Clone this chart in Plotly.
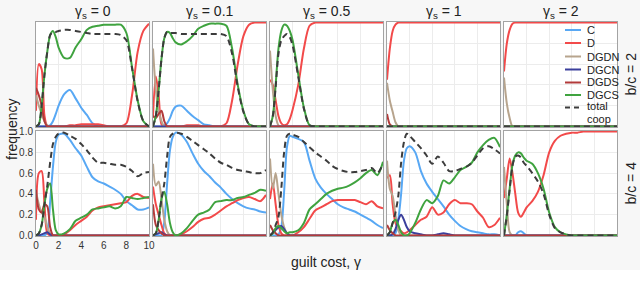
import plotly.graph_objects as go
from plotly.subplots import make_subplots

# ---------------- data ----------------
X = [0, 0.25, 0.5, 0.75, 1, 1.25, 1.5, 1.75, 2, 2.5, 3, 3.5, 4, 4.5, 5, 5.5, 6, 6.5, 7, 7.5, 8, 8.5, 9, 9.5, 10]
GAMMA_S = ["0", "0.1", "0.5", "1", "2"]
BC = ["2", "4"]
STRATS = ["C", "D", "DGDN", "DGCN", "DGDS", "DGCS"]
X_TICKS = [0, 2, 4, 6, 8, 10]
Y_TICKS = [0.0, 0.2, 0.4, 0.6, 0.8, 1.0]

# b/c = 2, gamma_s = 0
C_B2_G0 = [0, 0, 0, 0, 0, 0.01, 0.05, 0.12, 0.2, 0.31, 0.35, 0.27, 0.18, 0.11, 0.03, 0, 0, 0, 0, 0, 0, 0, 0, 0, 0]
D_B2_G0 = [0.15, 0.6, 0.55, 0.1, 0, 0, 0, 0, 0, 0, 0.01, 0.01, 0.02, 0.02, 0.02, 0.02, 0.01, 0, 0, 0, 0.03, 0.3, 0.72, 0.92, 0.99]
DGDN_B2_G0 = [0.3, 0.2, 0.12, 0.05, 0.01, 0, 0, 0, 0, 0, 0, 0, 0, 0, 0, 0, 0, 0, 0, 0, 0, 0, 0, 0, 0]
DGCN_B2_G0 = [0, 0, 0, 0, 0, 0, 0, 0, 0, 0, 0, 0, 0, 0, 0, 0, 0, 0, 0, 0, 0, 0, 0, 0, 0]
DGDS_B2_G0 = [0.37, 0.3, 0.2, 0.05, 0, 0, 0, 0, 0, 0, 0, 0, 0, 0, 0, 0, 0, 0, 0, 0, 0, 0, 0, 0, 0]
DGCS_B2_G0 = [0, 0.02, 0.2, 0.5, 0.72, 0.88, 0.92, 0.86, 0.76, 0.66, 0.66, 0.76, 0.84, 0.93, 0.96, 0.97, 0.98, 0.98, 0.98, 0.98, 0.9, 0.57, 0.25, 0.05, 0]
TOT_B2_G0 = [0, 0.02, 0.2, 0.5, 0.72, 0.88, 0.91, 0.91, 0.92, 0.93, 0.93, 0.92, 0.91, 0.9, 0.89, 0.89, 0.89, 0.89, 0.89, 0.88, 0.83, 0.56, 0.24, 0.05, 0]

# b/c = 2, gamma_s = 0.1
C_B2_G01 = [0, 0, 0, 0, 0.01, 0.03, 0.08, 0.15, 0.19, 0.2, 0.15, 0.1, 0.06, 0.02, 0.01, 0, 0, 0, 0, 0, 0, 0, 0, 0, 0]
D_B2_G01 = [0.1, 0.48, 0.3, 0.02, 0, 0, 0, 0, 0, 0, 0.01, 0.01, 0.01, 0, 0, 0, 0, 0.03, 0.25, 0.6, 0.87, 0.98, 1, 1, 1]
DGDN_B2_G01 = [0.75, 0.35, 0.15, 0.05, 0, 0, 0, 0, 0, 0, 0, 0, 0, 0, 0, 0, 0, 0, 0, 0, 0, 0, 0, 0, 0]
DGCN_B2_G01 = [0, 0, 0, 0, 0, 0, 0, 0, 0, 0, 0, 0, 0, 0, 0, 0, 0, 0, 0, 0, 0, 0, 0, 0, 0]
DGDS_B2_G01 = [0.1, 0.08, 0.12, 0.15, 0.05, 0, 0, 0, 0, 0, 0, 0, 0, 0, 0, 0, 0, 0, 0, 0, 0, 0, 0, 0, 0]
DGCS_B2_G01 = [0, 0.1, 0.35, 0.65, 0.85, 0.91, 0.9, 0.85, 0.81, 0.79, 0.82, 0.87, 0.94, 0.97, 0.99, 0.99, 0.99, 0.97, 0.75, 0.4, 0.15, 0.02, 0, 0, 0]
TOT_B2_G01 = [0, 0.1, 0.35, 0.65, 0.85, 0.91, 0.9, 0.9, 0.9, 0.89, 0.89, 0.89, 0.89, 0.89, 0.89, 0.89, 0.89, 0.87, 0.7, 0.38, 0.14, 0.02, 0, 0, 0]

# b/c = 2, gamma_s = 0.5
C_B2_G05 = [0, 0, 0, 0, 0, 0, 0, 0, 0, 0, 0, 0, 0, 0, 0, 0, 0, 0, 0, 0, 0, 0, 0, 0, 0]
D_B2_G05 = [0.45, 0.4, 0.25, 0.1, 0.03, 0.01, 0.02, 0.07, 0.16, 0.4, 0.75, 0.97, 1, 1, 1, 1, 1, 1, 1, 1, 1, 1, 1, 1, 1]
DGDN_B2_G05 = [0.73, 0.35, 0.1, 0.01, 0, 0, 0, 0, 0, 0, 0, 0, 0, 0, 0, 0, 0, 0, 0, 0, 0, 0, 0, 0, 0]
DGCN_B2_G05 = [0, 0, 0, 0, 0, 0, 0, 0, 0, 0, 0, 0, 0, 0, 0, 0, 0, 0, 0, 0, 0, 0, 0, 0, 0]
DGDS_B2_G05 = [0, 0, 0, 0, 0, 0, 0, 0, 0, 0, 0, 0, 0, 0, 0, 0, 0, 0, 0, 0, 0, 0, 0, 0, 0]
DGCS_B2_G05 = [0, 0.1, 0.4, 0.75, 0.92, 0.98, 0.97, 0.92, 0.83, 0.5, 0.18, 0.01, 0, 0, 0, 0, 0, 0, 0, 0, 0, 0, 0, 0, 0]
TOT_B2_G05 = [0, 0.1, 0.38, 0.7, 0.83, 0.87, 0.89, 0.86, 0.78, 0.48, 0.17, 0.01, 0, 0, 0, 0, 0, 0, 0, 0, 0, 0, 0, 0, 0]

# b/c = 2, gamma_s = 1
C_B2_G1 = [0, 0, 0, 0, 0, 0, 0, 0, 0, 0, 0, 0, 0, 0, 0, 0, 0, 0, 0, 0, 0, 0, 0, 0, 0]
D_B2_G1 = [0.45, 0.75, 0.92, 0.98, 1, 1, 1, 1, 1, 1, 1, 1, 1, 1, 1, 1, 1, 1, 1, 1, 1, 1, 1, 1, 1]
DGDN_B2_G1 = [0.42, 0.25, 0.14, 0.04, 0, 0, 0, 0, 0, 0, 0, 0, 0, 0, 0, 0, 0, 0, 0, 0, 0, 0, 0, 0, 0]
DGCN_B2_G1 = [0, 0, 0, 0, 0, 0, 0, 0, 0, 0, 0, 0, 0, 0, 0, 0, 0, 0, 0, 0, 0, 0, 0, 0, 0]
DGDS_B2_G1 = [0.12, 0.02, 0, 0, 0, 0, 0, 0, 0, 0, 0, 0, 0, 0, 0, 0, 0, 0, 0, 0, 0, 0, 0, 0, 0]
DGCS_B2_G1 = [0, 0, 0, 0, 0, 0, 0, 0, 0, 0, 0, 0, 0, 0, 0, 0, 0, 0, 0, 0, 0, 0, 0, 0, 0]
TOT_B2_G1 = [0, 0, 0, 0, 0, 0, 0, 0, 0, 0, 0, 0, 0, 0, 0, 0, 0, 0, 0, 0, 0, 0, 0, 0, 0]

# b/c = 2, gamma_s = 2
C_B2_G2 = [0, 0, 0, 0, 0, 0, 0, 0, 0, 0, 0, 0, 0, 0, 0, 0, 0, 0, 0, 0, 0, 0, 0, 0, 0]
D_B2_G2 = [0.53, 0.8, 0.93, 0.99, 1, 1, 1, 1, 1, 1, 1, 1, 1, 1, 1, 1, 1, 1, 1, 1, 1, 1, 1, 1, 1]
DGDN_B2_G2 = [0.47, 0.22, 0.08, 0, 0, 0, 0, 0, 0, 0, 0, 0, 0, 0, 0, 0, 0, 0, 0, 0, 0, 0, 0, 0, 0]
DGCN_B2_G2 = [0, 0, 0, 0, 0, 0, 0, 0, 0, 0, 0, 0, 0, 0, 0, 0, 0, 0, 0, 0, 0, 0, 0, 0, 0]
DGDS_B2_G2 = [0, 0, 0, 0, 0, 0, 0, 0, 0, 0, 0, 0, 0, 0, 0, 0, 0, 0, 0, 0, 0, 0, 0, 0, 0]
DGCS_B2_G2 = [0, 0, 0, 0, 0, 0, 0, 0, 0, 0, 0, 0, 0, 0, 0, 0, 0, 0, 0, 0, 0, 0, 0, 0, 0]
TOT_B2_G2 = [0, 0, 0, 0, 0, 0, 0, 0, 0, 0, 0, 0, 0, 0, 0, 0, 0, 0, 0, 0, 0, 0, 0, 0, 0]

# b/c = 4, gamma_s = 0
C_B4_G0 = [0, 0, 0, 0, 0.03, 0.32, 0.66, 0.9, 0.97, 0.98, 0.92, 0.84, 0.77, 0.66, 0.56, 0.52, 0.5, 0.47, 0.44, 0.4, 0.33, 0.29, 0.25, 0.25, 0.27]
D_B4_G0 = [0.15, 0.6, 0.62, 0.3, 0.02, 0, 0, 0, 0, 0.01, 0.05, 0.1, 0.14, 0.18, 0.24, 0.27, 0.28, 0.29, 0.3, 0.31, 0.32, 0.38, 0.4, 0.37, 0.36]
DGDN_B4_G0 = [0.42, 0.3, 0.22, 0.18, 0.08, 0.02, 0, 0, 0, 0, 0, 0, 0, 0, 0, 0, 0, 0, 0, 0, 0, 0, 0, 0, 0]
DGCN_B4_G0 = [0, 0, 0.01, 0.02, 0.03, 0.01, 0, 0, 0, 0, 0, 0, 0, 0, 0, 0, 0, 0, 0, 0, 0, 0, 0, 0, 0]
DGDS_B4_G0 = [0.44, 0.25, 0.22, 0.3, 0.28, 0.08, 0, 0, 0, 0, 0, 0, 0, 0, 0, 0, 0, 0, 0, 0, 0, 0, 0, 0, 0]
DGCS_B4_G0 = [0, 0.02, 0.1, 0.3, 0.45, 0.5, 0.25, 0.05, 0.01, 0.02, 0.06, 0.14, 0.17, 0.2, 0.25, 0.26, 0.27, 0.28, 0.26, 0.28, 0.37, 0.36, 0.35, 0.36, 0.37]
TOT_B4_G0 = [0, 0.02, 0.1, 0.3, 0.48, 0.7, 0.88, 0.95, 0.98, 0.99, 0.96, 0.93, 0.88, 0.82, 0.75, 0.7, 0.7, 0.69, 0.68, 0.68, 0.66, 0.62, 0.57, 0.6, 0.61]

# b/c = 4, gamma_s = 0.1
C_B4_G01 = [0, 0, 0, 0, 0.13, 0.5, 0.82, 0.95, 0.99, 0.97, 0.9, 0.79, 0.69, 0.62, 0.57, 0.51, 0.46, 0.4, 0.35, 0.31, 0.28, 0.26, 0.25, 0.23, 0.22]
D_B4_G01 = [0.47, 0.3, 0.2, 0.1, 0.02, 0, 0, 0, 0, 0.01, 0.04, 0.08, 0.13, 0.16, 0.17, 0.2, 0.24, 0.28, 0.31, 0.34, 0.36, 0.37, 0.35, 0.33, 0.39]
DGDN_B4_G01 = [0.69, 0.48, 0.52, 0.35, 0.15, 0.04, 0, 0, 0, 0, 0, 0, 0, 0, 0, 0, 0, 0, 0, 0, 0, 0, 0, 0, 0]
DGCN_B4_G01 = [0, 0.01, 0.02, 0.03, 0.01, 0, 0, 0, 0, 0, 0, 0, 0, 0, 0, 0, 0, 0, 0, 0, 0, 0, 0, 0, 0]
DGDS_B4_G01 = [0.3, 0.1, 0.05, 0.02, 0, 0, 0, 0, 0, 0, 0, 0, 0, 0, 0, 0, 0, 0, 0, 0, 0, 0, 0, 0, 0]
DGCS_B4_G01 = [0, 0.02, 0.15, 0.35, 0.42, 0.3, 0.12, 0.03, 0, 0.02, 0.07, 0.14, 0.2, 0.22, 0.25, 0.32, 0.33, 0.34, 0.34, 0.36, 0.37, 0.39, 0.41, 0.44, 0.43]
TOT_B4_G01 = [0, 0.02, 0.15, 0.35, 0.5, 0.76, 0.95, 0.98, 0.99, 0.98, 0.95, 0.91, 0.87, 0.83, 0.79, 0.74, 0.7, 0.68, 0.65, 0.63, 0.62, 0.61, 0.6, 0.6, 0.63]

# b/c = 4, gamma_s = 0.5
C_B4_G05 = [0, 0, 0, 0.01, 0.08, 0.42, 0.85, 0.96, 0.95, 0.93, 0.9, 0.72, 0.55, 0.46, 0.4, 0.35, 0.3, 0.27, 0.25, 0.23, 0.2, 0.17, 0.14, 0.1, 0.07]
D_B4_G05 = [0.35, 0.5, 0.3, 0.1, 0.02, 0, 0, 0, 0, 0.03, 0.08, 0.16, 0.24, 0.27, 0.3, 0.33, 0.34, 0.34, 0.34, 0.34, 0.32, 0.3, 0.33, 0.28, 0.26]
DGDN_B4_G05 = [0.74, 0.45, 0.6, 0.4, 0.2, 0.08, 0.02, 0, 0, 0, 0, 0, 0, 0, 0, 0, 0, 0, 0, 0, 0, 0, 0, 0, 0]
DGCN_B4_G05 = [0, 0.02, 0.05, 0.08, 0.09, 0.06, 0.02, 0, 0, 0, 0, 0, 0, 0, 0, 0, 0, 0, 0, 0, 0, 0, 0, 0, 0]
DGDS_B4_G05 = [0.1, 0.05, 0.02, 0, 0, 0, 0, 0, 0, 0, 0, 0, 0, 0, 0, 0, 0, 0, 0, 0, 0, 0, 0, 0, 0]
DGCS_B4_G05 = [0, 0.02, 0.07, 0.09, 0.07, 0.04, 0.02, 0.03, 0.03, 0.05, 0.12, 0.25, 0.3, 0.35, 0.4, 0.43, 0.45, 0.46, 0.48, 0.51, 0.55, 0.6, 0.63, 0.58, 0.71]
TOT_B4_G05 = [0, 0.03, 0.1, 0.18, 0.45, 0.8, 0.96, 0.98, 0.97, 0.95, 0.9, 0.85, 0.8, 0.76, 0.72, 0.67, 0.64, 0.62, 0.61, 0.61, 0.62, 0.63, 0.65, 0.6, 0.69]

# b/c = 4, gamma_s = 1
C_B4_G1 = [0, 0, 0, 0.02, 0.15, 0.4, 0.72, 0.84, 0.86, 0.8, 0.62, 0.5, 0.42, 0.35, 0.28, 0.2, 0.14, 0.09, 0.06, 0.04, 0.03, 0.02, 0.01, 0.01, 0]
D_B4_G1 = [0.55, 0.58, 0.3, 0.12, 0.07, 0.04, 0.02, 0.03, 0.05, 0.1, 0.15, 0.18, 0.27, 0.2, 0.22, 0.3, 0.34, 0.31, 0.31, 0.3, 0.23, 0.17, 0.08, 0.1, 0.17]
DGDN_B4_G1 = [0.72, 0.45, 0.38, 0.2, 0.05, 0, 0, 0, 0, 0, 0, 0, 0, 0, 0, 0, 0, 0, 0, 0, 0, 0, 0, 0, 0]
DGCN_B4_G1 = [0, 0, 0.01, 0.06, 0.15, 0.2, 0.15, 0.08, 0.04, 0.02, 0.01, 0, 0, 0.01, 0.02, 0.01, 0, 0, 0, 0, 0, 0, 0, 0, 0]
DGDS_B4_G1 = [0.1, 0.05, 0.02, 0, 0, 0, 0, 0, 0, 0, 0, 0, 0, 0, 0, 0, 0, 0, 0, 0, 0, 0, 0, 0, 0]
DGCS_B4_G1 = [0, 0.03, 0.12, 0.15, 0.1, 0.03, 0, 0, 0.02, 0.12, 0.25, 0.34, 0.31, 0.38, 0.53, 0.5, 0.56, 0.63, 0.66, 0.7, 0.8, 0.87, 0.92, 0.94, 0.85]
TOT_B4_G1 = [0, 0.03, 0.12, 0.22, 0.38, 0.7, 0.9, 0.98, 0.96, 0.9, 0.84, 0.77, 0.69, 0.76, 0.7, 0.62, 0.62, 0.64, 0.66, 0.7, 0.77, 0.84, 0.86, 0.83, 0.79]

# b/c = 4, gamma_s = 2
C_B4_G2 = [0, 0, 0, 0, 0, 0.03, 0.04, 0.02, 0, 0, 0, 0, 0, 0, 0, 0, 0, 0, 0, 0, 0, 0, 0, 0, 0]
D_B4_G2 = [0.36, 0.55, 0.74, 0.6, 0.4, 0.22, 0.18, 0.22, 0.27, 0.33, 0.42, 0.58, 0.8, 0.91, 0.96, 0.98, 0.99, 0.99, 1, 1, 1, 1, 1, 1, 1]
DGDN_B4_G2 = [0.66, 0.3, 0.03, 0, 0, 0, 0, 0, 0, 0, 0, 0, 0, 0, 0, 0, 0, 0, 0, 0, 0, 0, 0, 0, 0]
DGCN_B4_G2 = [0, 0, 0, 0, 0, 0, 0, 0, 0, 0, 0, 0, 0, 0, 0, 0, 0, 0, 0, 0, 0, 0, 0, 0, 0]
DGDS_B4_G2 = [0, 0, 0, 0, 0, 0, 0, 0, 0, 0, 0, 0, 0, 0, 0, 0, 0, 0, 0, 0, 0, 0, 0, 0, 0]
DGCS_B4_G2 = [0, 0.2, 0.45, 0.68, 0.77, 0.8, 0.79, 0.75, 0.72, 0.69, 0.6, 0.45, 0.22, 0.08, 0.03, 0.01, 0, 0, 0, 0, 0, 0, 0, 0, 0]
TOT_B4_G2 = [0, 0.19, 0.44, 0.67, 0.76, 0.77, 0.75, 0.7, 0.67, 0.6, 0.52, 0.4, 0.2, 0.07, 0.03, 0.01, 0, 0, 0, 0, 0, 0, 0, 0, 0]

PANELS = [
    [
        [C_B2_G0, D_B2_G0, DGDN_B2_G0, DGCN_B2_G0, DGDS_B2_G0, DGCS_B2_G0, TOT_B2_G0],
        [C_B2_G01, D_B2_G01, DGDN_B2_G01, DGCN_B2_G01, DGDS_B2_G01, DGCS_B2_G01, TOT_B2_G01],
        [C_B2_G05, D_B2_G05, DGDN_B2_G05, DGCN_B2_G05, DGDS_B2_G05, DGCS_B2_G05, TOT_B2_G05],
        [C_B2_G1, D_B2_G1, DGDN_B2_G1, DGCN_B2_G1, DGDS_B2_G1, DGCS_B2_G1, TOT_B2_G1],
        [C_B2_G2, D_B2_G2, DGDN_B2_G2, DGCN_B2_G2, DGDS_B2_G2, DGCS_B2_G2, TOT_B2_G2],
    ],
    [
        [C_B4_G0, D_B4_G0, DGDN_B4_G0, DGCN_B4_G0, DGDS_B4_G0, DGCS_B4_G0, TOT_B4_G0],
        [C_B4_G01, D_B4_G01, DGDN_B4_G01, DGCN_B4_G01, DGDS_B4_G01, DGCS_B4_G01, TOT_B4_G01],
        [C_B4_G05, D_B4_G05, DGDN_B4_G05, DGCN_B4_G05, DGDS_B4_G05, DGCS_B4_G05, TOT_B4_G05],
        [C_B4_G1, D_B4_G1, DGDN_B4_G1, DGCN_B4_G1, DGDS_B4_G1, DGCS_B4_G1, TOT_B4_G1],
        [C_B4_G2, D_B4_G2, DGDN_B4_G2, DGCN_B4_G2, DGDS_B4_G2, DGCS_B4_G2, TOT_B4_G2],
    ],
]

# ---------------- style ----------------
COLORS = {
    "C": "#58a8f4",
    "D": "#f24a4a",
    "DGDN": "#b7a48d",
    "DGCN": "#3b3f9c",
    "DGDS": "#b23a3a",
    "DGCS": "#3fa33f",
}
TOT_COLOR = "#3c3c3c"
FONT = "Liberation Sans, Arial, sans-serif"

W, H = 640, 287
L, R, T, B = 36, 23, 22, 51
PW = W - L - R  # 581
PH = H - T - B  # 214


def px_x(px):
    return (px - L) / PW


def px_y(py):
    return (H - B - py) / PH


fig = make_subplots(rows=2, cols=5, horizontal_spacing=4 / PW, vertical_spacing=4 / PH)

for r in range(2):
    for c in range(5):
        series = PANELS[r][c]
        for k, name in enumerate(STRATS):
            fig.add_trace(
                go.Scatter(
                    x=X, y=series[k], mode="lines", name=name,
                    line=dict(color=COLORS[name], width=2, shape="spline", smoothing=0.8),
                    showlegend=False,
                ),
                row=r + 1, col=c + 1,
            )
        fig.add_trace(
            go.Scatter(
                x=X, y=series[6], mode="lines", name="total coop",
                line=dict(color=TOT_COLOR, width=2, dash="6px,4px", shape="spline", smoothing=0.8),
                showlegend=False,
            ),
            row=r + 1, col=c + 1,
        )
        show_labels = (r == 1 and c == 0)
        fig.update_xaxes(
            range=[0, 10], tickvals=X_TICKS, showticklabels=show_labels,
            showgrid=True, gridcolor="#ececec", gridwidth=1, zeroline=False,
            showline=True, mirror=True, linecolor="#a3a3a3", linewidth=1,
            ticks="", tickfont=dict(size=10, color="#333333", family=FONT),
            row=r + 1, col=c + 1,
        )
        fig.update_yaxes(
            range=[-0.006, 1.006], tickvals=Y_TICKS, tickformat=".1f",
            showticklabels=show_labels,
            showgrid=True, gridcolor="#ececec", gridwidth=1, zeroline=False,
            showline=True, mirror=True, linecolor="#a3a3a3", linewidth=1,
            ticks="", tickfont=dict(size=10, color="#333333", family=FONT),
            row=r + 1, col=c + 1,
        )

annotations = []
# column titles
col_centers = [36 + 56.5 + i * 117 for i in range(5)]
for i, g in enumerate(GAMMA_S):
    annotations.append(dict(
        x=px_x(col_centers[i]), y=px_y(12), xref="paper", yref="paper",
        text="γ<sub>s</sub> = " + g, showarrow=False, xanchor="center", yanchor="middle",
        font=dict(size=14, color="#222222", family=FONT),
    ))
# row labels
for py, bc in zip([74.5, 183.5], BC):
    annotations.append(dict(
        x=px_x(630), y=px_y(py), xref="paper", yref="paper",
        text="b/c = " + bc, showarrow=False, textangle=-90,
        xanchor="center", yanchor="middle",
        font=dict(size=14, color="#222222", family=FONT),
    ))
# axis labels
annotations.append(dict(
    x=px_x(12), y=px_y(129), xref="paper", yref="paper", text="frequency",
    showarrow=False, textangle=-90, xanchor="center", yanchor="middle",
    font=dict(size=14, color="#222222", family=FONT),
))
annotations.append(dict(
    x=px_x(326), y=px_y(262), xref="paper", yref="paper", text="guilt cost, γ",
    showarrow=False, xanchor="center", yanchor="middle",
    font=dict(size=14, color="#222222", family=FONT),
))

# manual legend inside top-right panel
shapes = []
leg_labels = STRATS + ["total"]
leg_y = [30.0, 43.0, 56.5, 69.5, 82.5, 95.0, 107.5]
for i, name in enumerate(leg_labels):
    col = COLORS[name] if name in COLORS else TOT_COLOR
    shapes.append(dict(
        type="line", xref="paper", yref="paper",
        x0=px_x(565), x1=px_x(581), y0=px_y(leg_y[i]), y1=px_y(leg_y[i]),
        line=dict(color=col, width=2, dash="solid" if name in COLORS else "5px,4px"),
    ))
    annotations.append(dict(
        x=px_x(585), y=px_y(leg_y[i] - (2 if name == "total" else 0)), xref="paper", yref="paper",
        text=name, showarrow=False, xanchor="left", yanchor="middle", align="left",
        font=dict(size=11, color="#222222", family=FONT),
    ))
annotations.append(dict(
    x=px_x(585), y=px_y(118.5), xref="paper", yref="paper",
    text="coop", showarrow=False, xanchor="left", yanchor="middle", align="left",
    font=dict(size=11, color="#222222", family=FONT),
))

# white strip at the bottom (below the figure panel background)
shapes.append(dict(
    type="rect", xref="paper", yref="paper", layer="below",
    x0=px_x(-5), x1=px_x(650), y0=px_y(300), y1=px_y(270),
    fillcolor="#ffffff", line=dict(width=0),
))

fig.update_layout(
    width=W, height=H,
    margin=dict(l=L, r=R, t=T, b=B),
    paper_bgcolor="#f7f7f7", plot_bgcolor="#ffffff",
    annotations=annotations, shapes=shapes,
    font=dict(family=FONT),
    showlegend=False,
)

fig.write_html(
    "out.html",
    config={"displayModeBar": False},
    post_script="document.body.style.margin='0px';document.body.style.padding='0px';document.body.style.overflow='hidden';",
)
